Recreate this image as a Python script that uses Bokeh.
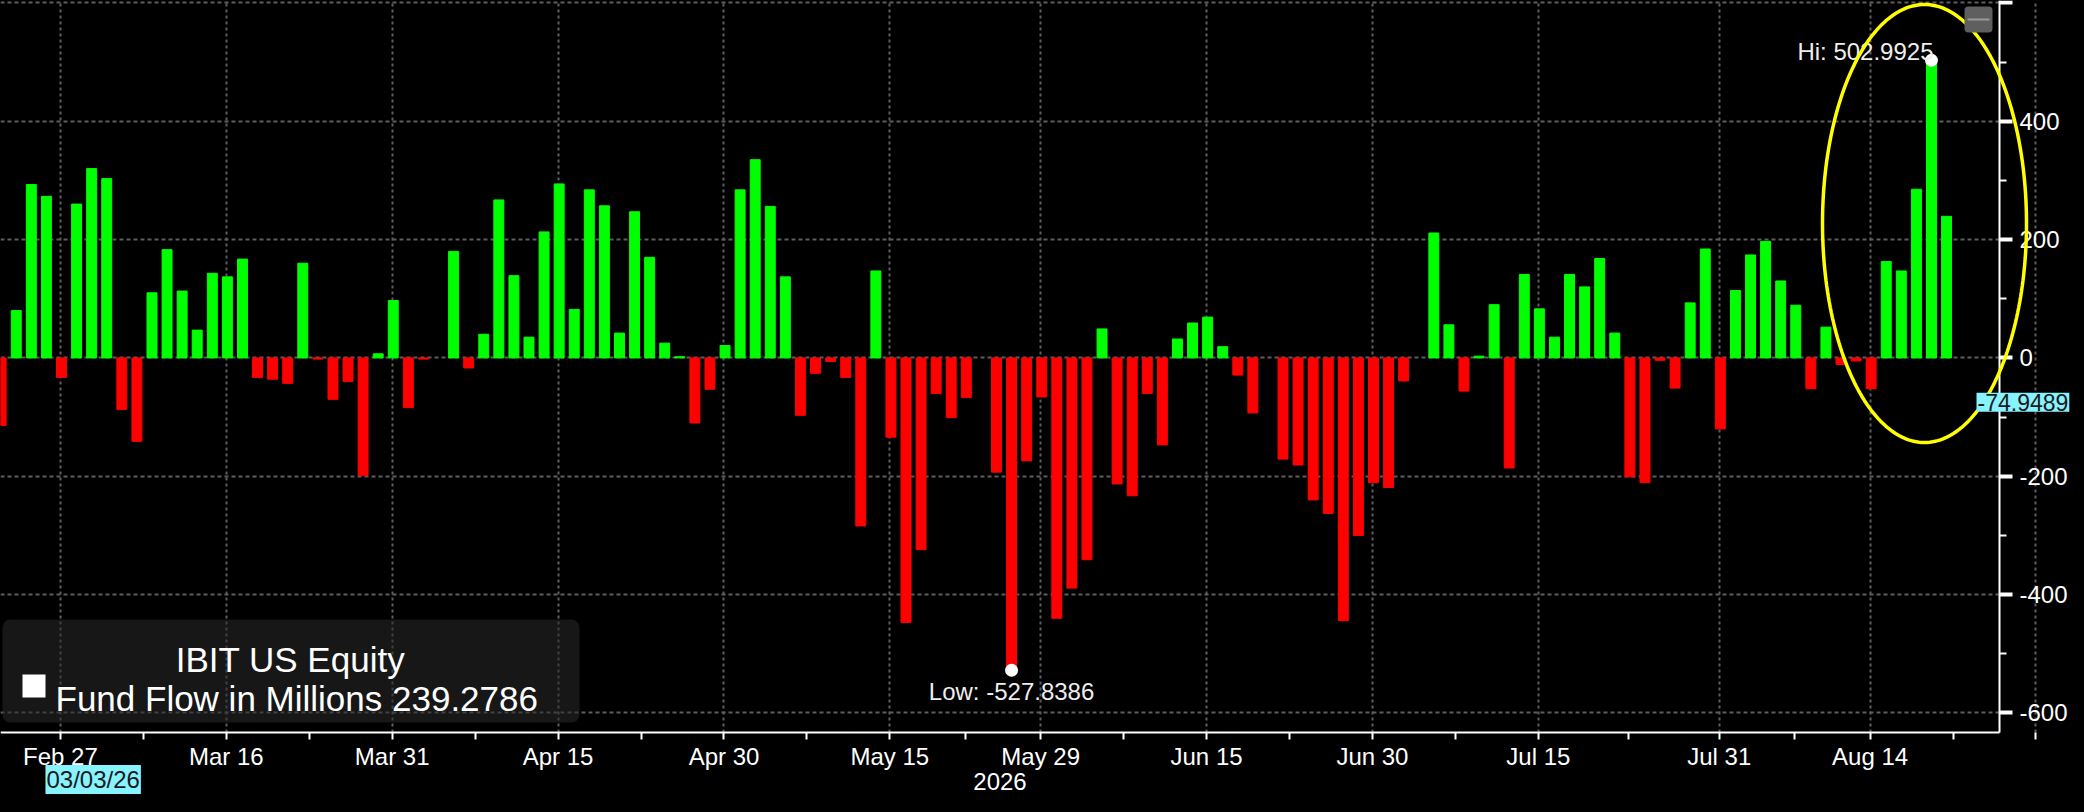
import pandas as pd
import numpy as np
from bokeh.plotting import figure
from bokeh.models import (ColumnDataSource, FixedTicker, Label, BoxAnnotation,
                          PolyAnnotation, Range1d)
from bokeh.embed import file_html
from bokeh.resources import INLINE

# ---------------- data ----------------
start_date = "2026-02-23"          # first weekday slot shown
# daily fund flow (USD millions); None = market holiday (empty slot)
flows = [
    -114, 80, 293, 273, -33, 260, 320, 303, -87, -141,
    110, 183, 113, 47, 143, 137, 167, -33, -36, -43,
    160, -2, -70, -40, -199, 7, 97, -84, -2, None,
    180, -17, 40, 267, 139, 35, 213, 294, 82, 284,
    257, 42, 247, 170, 25, 2, -110, -53, 21, 284,
    335, 256, 137, -97, -26, -6, -33, -284, 147, -134,
    -447, -324, -60, -101, -67, None, -193, -527.8386, -174, -66,
    -440, -389, -341, 49, -213, -233, -60, -147, 32, 59,
    69, 19, -29, -93, None, -171, -181, -240, -263, -444,
    -300, -211, -219, -39, None, 211, 56, -56, 3, 90,
    -186, 141, 83, 35, 141, 120, 168, 42, -201, -211,
    -4, -51, 93, 184, -120, 114, 174, 197, 130, 89,
    -52, 52, -11, -5, -52, 163, 147, 285, 502.9925, 239.2786,
]
tick_dates = ["2026-02-27", "2026-03-16", "2026-03-31", "2026-04-15", "2026-04-30",
              "2026-05-15", "2026-05-29", "2026-06-15", "2026-06-30", "2026-07-15",
              "2026-07-31", "2026-08-14", "2026-08-31"]
tick_labels = ["Feb 27", "Mar 16", "Mar 31", "Apr 15", "Apr 30", "May 15", "May 29",
               "Jun 15", "Jun 30", "Jul 15", "Jul 31", "Aug 14", ""]
y_ticks = [-600, -400, -200, 0, 200, 400, 600]
y_tick_labels = ["-600", "-400", "-200", "0", "200", "400", ""]
y_minor = [-500, -300, -100, 100, 300, 500]
year_label = "2026"
ticker_name = "IBIT US Equity"
series_name = "Fund Flow in Millions"
crosshair_date = "2026-03-03"
cursor_value = -74.9489

# ---------------- layout constants ----------------
FONT = "Liberation Sans"
BAR_SHIFT = 0.07           # bar centre relative to its date tick
BAR_W = 0.66
PX_X = 0.066311            # data units per reference pixel (x)
PX_Y = 1.68989             # data units per reference pixel (y)
X0 = 0.025                 # data x at reference pixel 0
Y_TOP = 604                # data y at reference pixel 3
CANVAS_W, CANVAS_H = 2076, 796

def fx(px):  # reference-pixel x -> data x (annotations / layout only)
    return X0 + px * PX_X

def fy(py):  # reference-pixel y -> data y (annotations / layout only)
    return Y_TOP - (py - 3) * PX_Y

AXIS_X = fx(1999)          # where the value axis sits
AXIS_Y = fy(735)           # where the date axis sits

def widx(d):
    return int(np.busday_count(start_date, d))

xs, vs, cs = [], [], []
for i, v in enumerate(flows):
    if v is None:
        continue
    xs.append(i + BAR_SHIFT)
    vs.append(v)
    cs.append("#00ff00" if v >= 0 else "#ff0000")
src = ColumnDataSource(dict(x=xs, v=vs, c=cs))

p = figure(frame_width=CANVAS_W, frame_height=CANVAS_H, output_backend="svg",
           toolbar_location=None,
           x_range=Range1d(fx(0), fx(CANVAS_W)), y_range=Range1d(fy(3 + CANVAS_H), Y_TOP),
           y_axis_location="right", background_fill_color="black",
           border_fill_color="black", min_border=0)
p.outline_line_color = None

# axes drawn at fixed positions inside the canvas
major = [widx(d) for d in tick_dates]
minor = [(a + b) / 2 for a, b in zip(major[:-1], major[1:])]
xt = FixedTicker(ticks=major, minor_ticks=minor)
yt = FixedTicker(ticks=y_ticks, minor_ticks=y_minor)
p.xaxis.ticker = xt
p.xaxis.major_label_overrides = {m: lab for m, lab in zip(major, tick_labels)}
p.yaxis.ticker = yt
p.yaxis.major_label_overrides = {t: lab for t, lab in zip(y_ticks, y_tick_labels)}
p.xaxis.fixed_location = AXIS_Y
p.yaxis.fixed_location = AXIS_X
p.xaxis.bounds = (fx(0), AXIS_X)
p.yaxis.bounds = (AXIS_Y, Y_TOP)

for ax in (p.xaxis[0], p.yaxis[0]):
    ax.axis_line_color = "white"
    ax.axis_line_width = 2
    ax.major_tick_line_color = "white"
    ax.minor_tick_line_color = "white"
    ax.major_tick_in = 0
    ax.minor_tick_in = 0
    ax.minor_tick_line_width = 2
    ax.major_label_text_color = "white"
    ax.major_label_text_font = FONT
    ax.major_label_text_font_size = "24px"

p.xaxis.major_tick_out = 7
p.xaxis.minor_tick_out = 7
p.xaxis.major_tick_line_width = 2
p.xaxis.major_label_standoff = 3
p.xaxis.axis_label = year_label
p.xaxis.axis_label_text_color = "white"
p.xaxis.axis_label_text_font = FONT
p.xaxis.axis_label_text_font_size = "24px"
p.xaxis.axis_label_text_font_style = "normal"
p.xaxis.axis_label_standoff = 0

p.yaxis.major_tick_out = 13
p.yaxis.major_tick_line_width = 4
p.yaxis.minor_tick_out = 7
p.yaxis.major_label_standoff = 7

p.xgrid.ticker = xt
p.ygrid.ticker = yt
p.xgrid.cross_bounds = (AXIS_Y, Y_TOP)
p.ygrid.cross_bounds = (fx(0), AXIS_X)
p.xgrid.grid_line_color = "#5e5e5e"
p.xgrid.grid_line_dash = "3 3"
p.xgrid.grid_line_width = 2
p.ygrid.grid_line_color = "#5e5e5e"
p.ygrid.grid_line_dash = "4 3"
p.ygrid.grid_line_width = 2

p.vbar(x="x", top="v", bottom=0, width=BAR_W, color="c", source=src)

# high / low markers
vals = np.array([np.nan if v is None else v for v in flows], dtype=float)
hi_i, lo_i = int(np.nanargmax(vals)), int(np.nanargmin(vals))
hi_v, lo_v = vals[hi_i], vals[lo_i]
p.scatter(x=[hi_i + BAR_SHIFT, lo_i + BAR_SHIFT], y=[hi_v, lo_v], size=13,
          color="white", line_color=None)
p.add_layout(Label(x=hi_i + BAR_SHIFT, y=hi_v, text=f"Hi: {hi_v:.4f}", text_align="right",
                   text_baseline="alphabetic", x_offset=2, y_offset=9, text_color="#eeeeee",
                   text_font=FONT, text_font_size="24px"))
p.add_layout(Label(x=lo_i + BAR_SHIFT, y=lo_v, text=f"Low: {lo_v:.4f}", text_align="center",
                   text_baseline="top", y_offset=-8, text_color="#eeeeee",
                   text_font=FONT, text_font_size="24px"))

# highlight ellipse around the recent inflow surge
t = np.linspace(0, 2 * np.pi, 241)
ecx, ecy = fx(1924), fy(226)
erx, ery = 102 * PX_X, 219 * PX_Y
p.add_layout(PolyAnnotation(xs=list(ecx + erx * np.cos(t)), ys=list(ecy + ery * np.sin(t)),
                            fill_color=None, fill_alpha=0, line_color="#ffff00",
                            line_alpha=1.0, line_width=3.5))

# legend box
p.add_layout(BoxAnnotation(left=fx(2), right=fx(579), top=fy(622), bottom=fy(725),
                           fill_color="#2a2a2a", fill_alpha=0.55, line_color=None,
                           border_radius=8))
p.add_layout(Label(x=fx(290), y=fy(662), text=ticker_name, text_align="center",
                   text_baseline="alphabetic", text_color="white", text_font=FONT,
                   text_font_size="35px"))
p.add_layout(BoxAnnotation(left=fx(22), right=fx(45), top=fy(677), bottom=fy(700),
                           fill_color="white", fill_alpha=1, line_color=None))
p.add_layout(Label(x=fx(55), y=fy(701), text=f"{series_name} {flows[-1]}",
                   text_align="left", text_baseline="alphabetic", text_color="white",
                   text_font=FONT, text_font_size="35px"))

# scroll widget (top right)
p.add_layout(BoxAnnotation(left=fx(1964), right=fx(1992), top=fy(9), bottom=fy(35),
                           fill_color="#5f5f5f", fill_alpha=1, line_color=None,
                           border_radius=4))
p.add_layout(BoxAnnotation(left=fx(1967), right=fx(1989), top=fy(21), bottom=fy(23),
                           fill_color="#9a9a9a", fill_alpha=1, line_color=None))

# cursor labels
p.add_layout(Label(x=fx(1976), y=cursor_value, text=f"{cursor_value}", text_align="left",
                   text_baseline="middle", text_color="#1a1a1a", text_font=FONT,
                   text_font_size="23px", background_fill_color="#86f3ff", padding=1))
p.add_layout(Label(x=widx(crosshair_date) + BAR_SHIFT + 0.1, y=fy(782),
                   text=pd.Timestamp(crosshair_date).strftime("%m/%d/%y"),
                   text_align="center", text_baseline="middle", text_color="#1a1a1a",
                   text_font=FONT, text_font_size="24px", background_fill_color="#86f3ff",
                   padding=1))

html = file_html(p, INLINE)
html = html.replace("<body>", '<body style="background:#000000">')
open("out.html", "w").write(html)
